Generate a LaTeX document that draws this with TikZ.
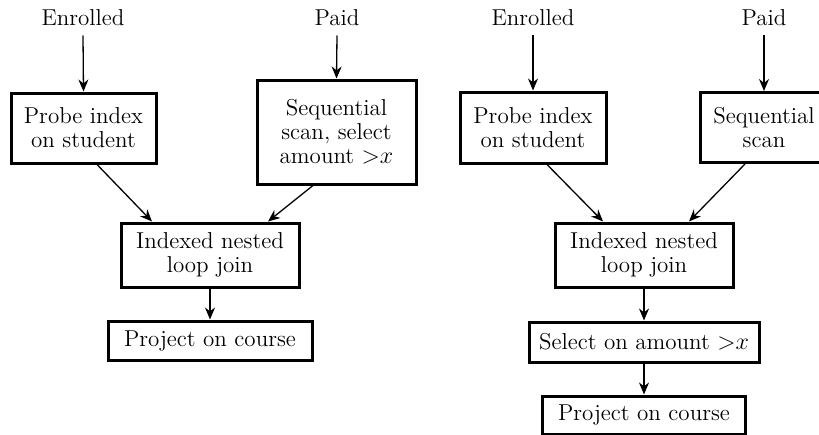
\documentclass[tikz,border=0pt]{standalone}
\usetikzlibrary{arrows.meta,calc}
\begin{document}
\begin{tikzpicture}[x=0.5pt,y=-0.5pt,
  every node/.style={font=\fontsize{11.5}{12}\selectfont, align=center, inner sep=0pt},
  opbox/.style={draw, line width=1.5pt, rectangle},
  arr/.style={line width=0.65pt, -{Stealth[length=6pt,width=5pt]}}]
\clip (0,0) rectangle (819,434);
% ---------- left plan ----------
\node (enl) at (83,18) {Enrolled};
\node (paidl) at (337,18) {Paid};
\node[opbox, minimum width=145*0.5pt, minimum height=70*0.5pt] (probel) at (83.5,128) {Probe index\\on student};
\node[opbox, minimum width=159*0.5pt, minimum height=104*0.5pt] (seql) at (336.5,132) {Sequential\\scan, select\\amount $>$$x$};
\node[opbox, minimum width=178*0.5pt, minimum height=64*0.5pt] (joinl) at (210,255) {Indexed nested\\loop join};
\node[opbox, minimum width=204*0.5pt, minimum height=39*0.5pt] (projl) at (210,340.5) {Project on course};
\draw[arr] ($(enl.south)+(0,9)$) -- (probel.north);
\draw[arr] ($(paidl.south)+(0,9)$) -- (seql.north);
\draw[arr] ($(probel.south)+(13.5,0)$) -- ($(joinl.north)+(-58,0)$);
\draw[arr] ($(seql.south)+(-23.5,0)$) -- ($(joinl.north)+(58,0)$);
\draw[arr] (joinl.south) -- (projl.north);
% ---------- right plan ----------
\node (enr) at (533,18) {Enrolled};
\node (paidr) at (764,18) {Paid};
\node[opbox, minimum width=146*0.5pt, minimum height=71*0.5pt] (prober) at (533,127.5) {Probe index\\on student};
\node[opbox, minimum width=128*0.5pt, minimum height=70*0.5pt] (seqr) at (764,127.5) {Sequential\\scan};
\node[opbox, minimum width=178*0.5pt, minimum height=64*0.5pt] (joinr) at (644,255) {Indexed nested\\loop join};
\node[opbox, minimum width=230*0.5pt, minimum height=40*0.5pt] (selr) at (644,342) {Select on amount $>$$x$};
\node[opbox, minimum width=203*0.5pt, minimum height=38*0.5pt] (projr) at (644,415) {Project on course};
\draw[arr] ($(enr.south)+(0,9)$) -- (prober.north);
\draw[arr] ($(paidr.south)+(0,9)$) -- (seqr.north);
\draw[arr] ($(prober.south)+(14,0)$) -- ($(joinr.north)+(-41,0)$);
\draw[arr] ($(seqr.south)+(-19,0)$) -- ($(joinr.north)+(45,0)$);
\draw[arr] (joinr.south) -- (selr.north);
\draw[arr] (selr.south) -- (projr.north);
\end{tikzpicture}
\end{document}
